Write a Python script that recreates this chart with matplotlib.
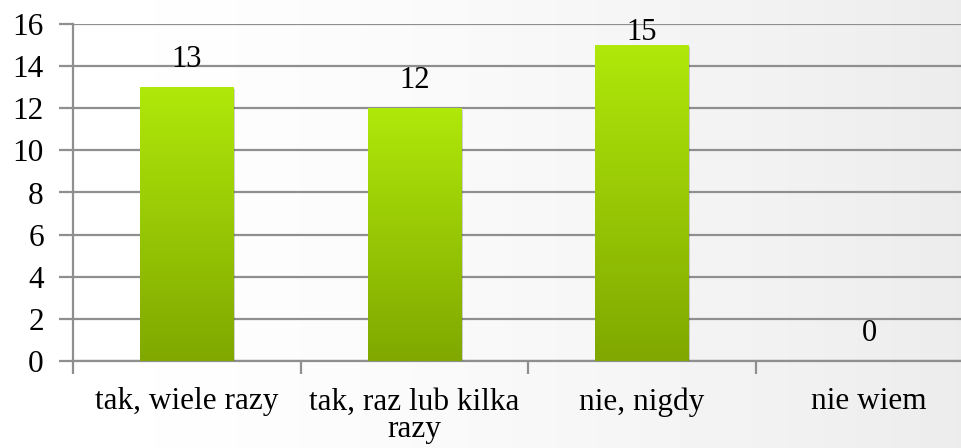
import numpy as np
import matplotlib
matplotlib.use('Agg')
import matplotlib.pyplot as plt
from matplotlib import patheffects

plt.rcParams['font.family'] = ['Liberation Serif', 'DejaVu Serif']

# --- data --- #
categories = ['tak, wiele razy', 'tak, raz lub kilka\nrazy', 'nie, nigdy', 'nie wiem']
counts = [13, 12, 15, 0]
y_ticks = [0, 2, 4, 6, 8, 10, 12, 14, 16]

# --- style --- #
grid_color = '#8f8f8f'
bar_top = np.array([0xb0, 0xe8, 0x0a]) / 255
bar_bottom = np.array([0x80, 0xa8, 0x00]) / 255

W, H = 962, 448
fig = plt.figure(figsize=(W / 100, H / 100), dpi=100)

# soft white-to-grey page background
bg = fig.add_axes([0, 0, 1, 1], zorder=-10)
grad = np.linspace(0, 1, 256) ** 1.6
bg_img = 1.0 - 0.075 * grad
bg.imshow(np.tile(bg_img, (2, 1)), cmap='gray', vmin=0, vmax=1,
          aspect='auto', extent=[0, 1, 0, 1])
bg.axis('off')

ax = fig.add_axes([73 / W, 87 / H, 910 / W, 337 / H])
ax.patch.set_alpha(0)

x = np.arange(len(categories))
bars = ax.bar(x, counts, width=0.41, color=bar_top, zorder=3,
              path_effects=[patheffects.SimplePatchShadow(offset=(1.5, -1.5),
                                                          shadow_rgbFace='#000000',
                                                          alpha=0.18),
                            patheffects.Normal()])

# vertical gradient fill inside every bar
ramp = np.linspace(0, 1, 128)[:, None, None]
ramp_rgb = bar_bottom + (bar_top - bar_bottom) * ramp
for b, v in zip(bars, counts):
    if v <= 0:
        continue
    im = ax.imshow(ramp_rgb, origin='lower', aspect='auto', zorder=4,
                   extent=[b.get_x(), b.get_x() + b.get_width(), 0, v])
    im.set_clip_path(b)

ax.set_xlim(-0.5, len(categories) - 0.5)
ax.set_ylim(0, 16)
ax.set_yticks(y_ticks)
ax.set_yticklabels([str(t) for t in y_ticks], fontsize=22.5)
ax.grid(axis='y', color=grid_color, linewidth=1.6, zorder=1)
ax.set_axisbelow(True)

ax.set_xticks(x)
ax.set_xticklabels(categories, fontsize=22.5, linespacing=0.95)
ax.set_xticks(np.arange(len(categories) + 1) - 0.5, minor=True)
ax.tick_params(axis='x', which='major', length=0, pad=19)
ax.tick_params(axis='x', which='minor', length=9, width=1.6, color=grid_color)
ax.tick_params(axis='y', length=10, width=1.6, color=grid_color, pad=11)

for side in ['top', 'right']:
    ax.spines[side].set_visible(False)
for side in ['left', 'bottom']:
    ax.spines[side].set_color(grid_color)
    ax.spines[side].set_linewidth(1.6)

# value labels above the bars, kept inside the plot area
for xi, v in zip(x, counts):
    ax.text(xi, min(v + 1.3, 15.6), str(v), ha='center', va='center',
            fontsize=22, zorder=5)

fig.savefig('out.png', dpi=100)
